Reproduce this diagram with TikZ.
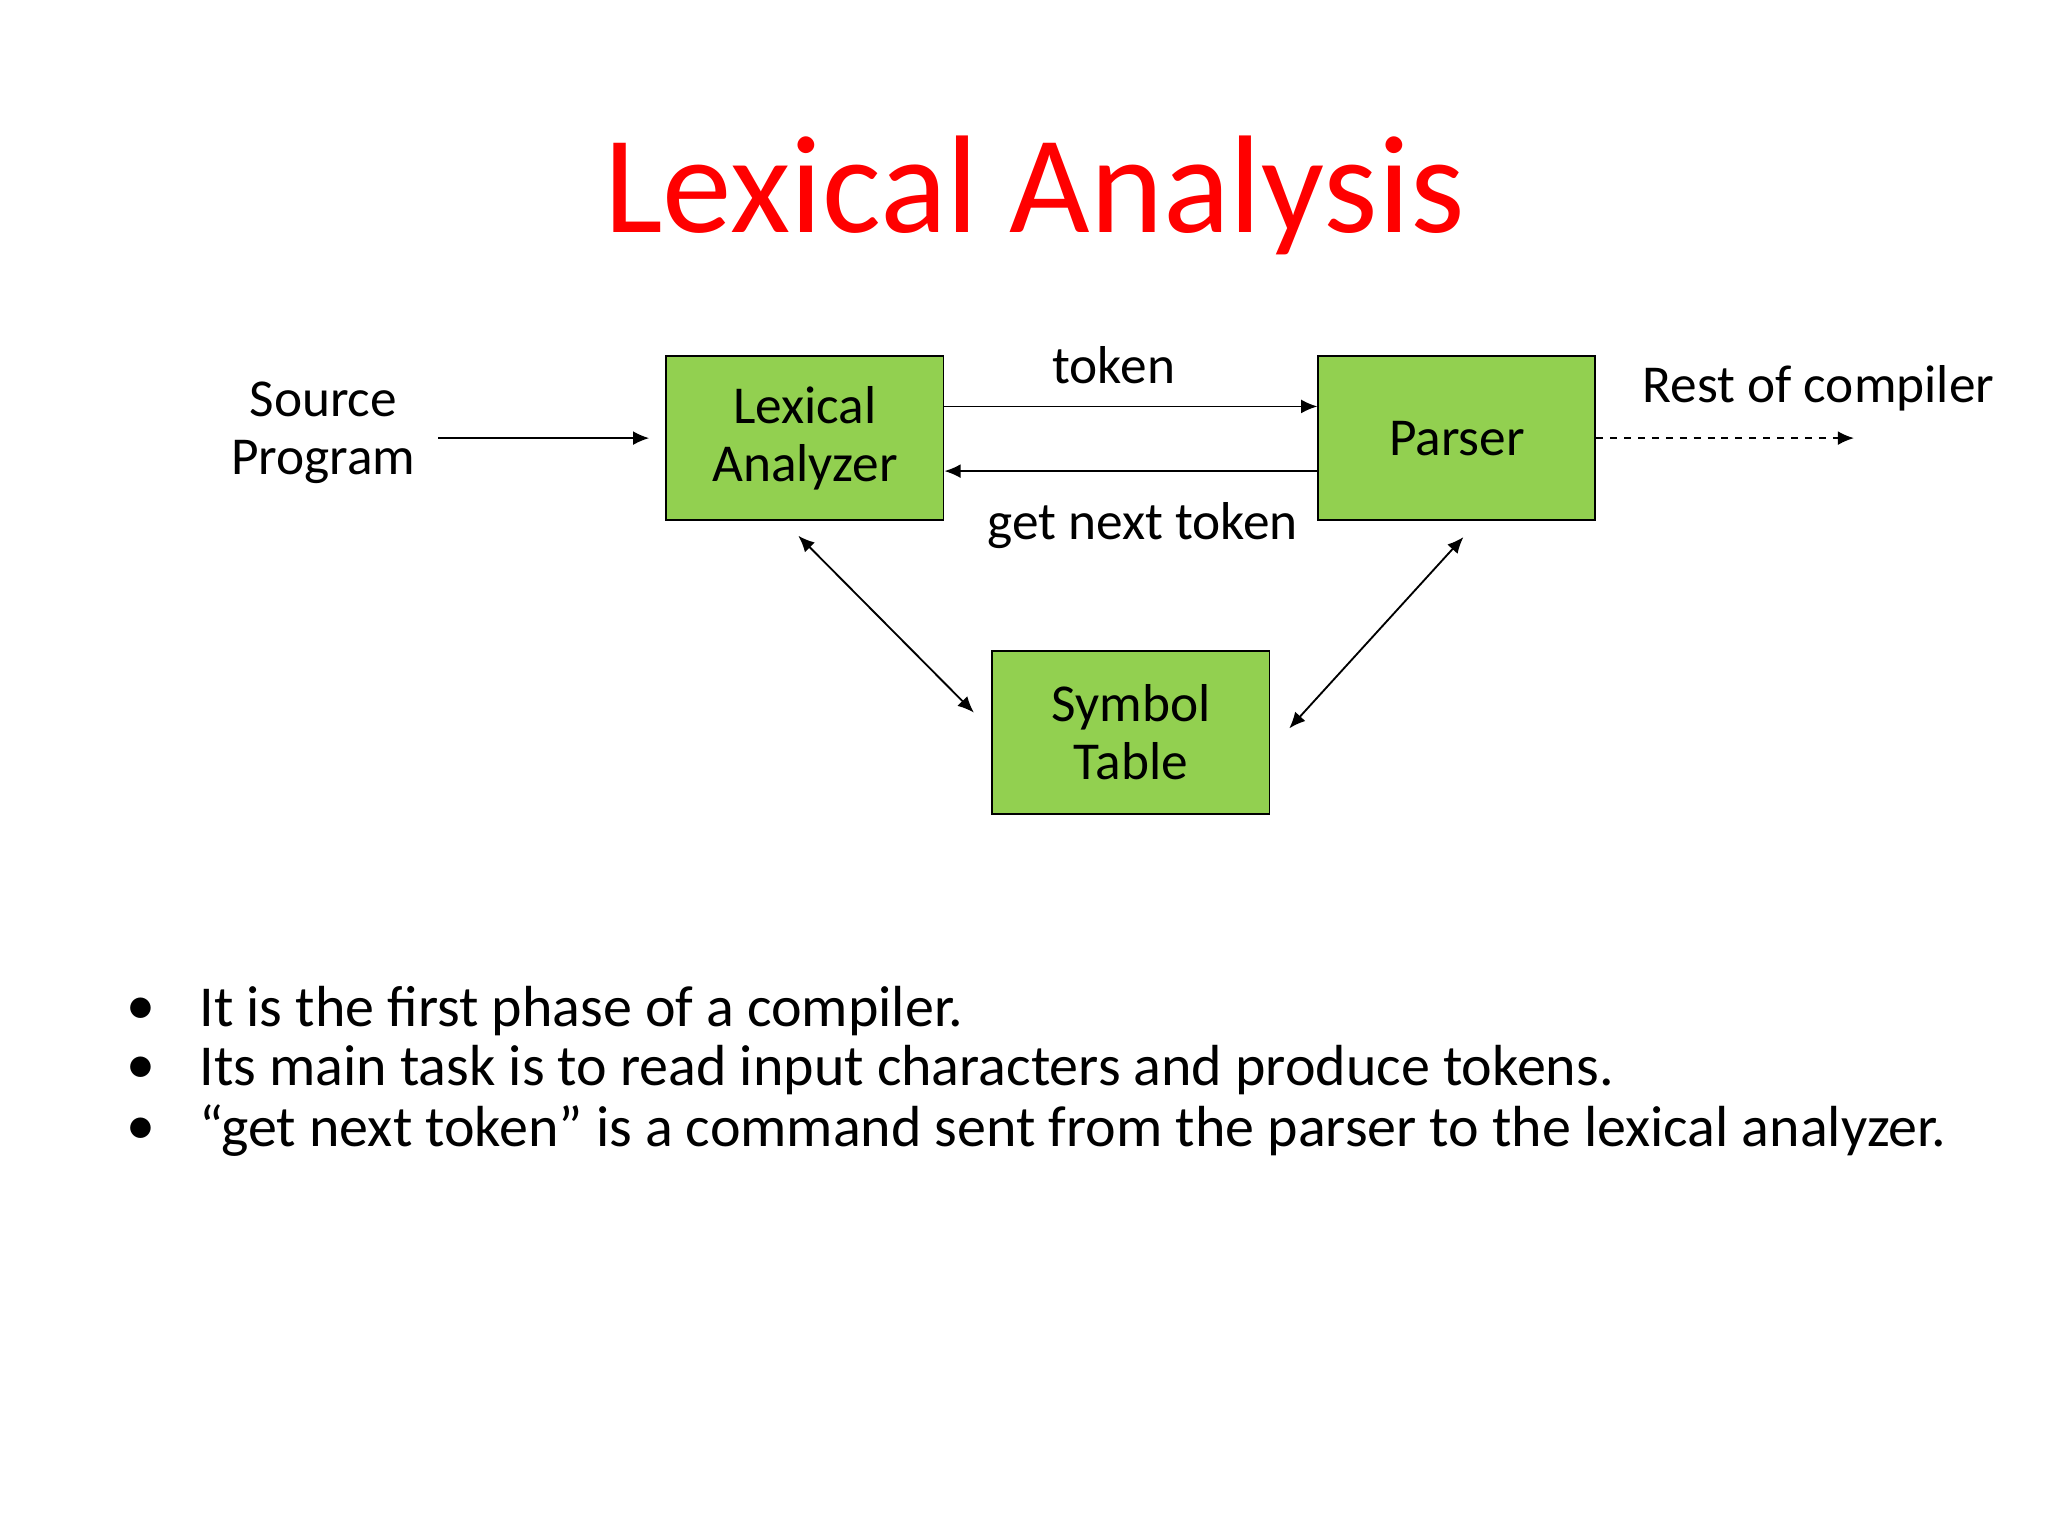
\documentclass[tikz,border=0pt]{standalone}
\usepackage{fontspec}
\setmainfont{Carlito}
\usetikzlibrary{arrows.meta}
\definecolor{boxgreen}{HTML}{92D050}
\begin{document}
\begin{tikzpicture}[x=0.02cm,y=-0.02cm,
  box/.style={draw=black,thick,fill=boxgreen,minimum width=4.2cm,minimum height=2.48cm,align=center,font=\fontsize{23}{27}\selectfont},
  lbl/.style={font=\fontsize{23}{27}\selectfont,align=center},
  arr/.style={-{Latex[length=7pt,width=6pt]},thick},
  barr/.style={{Latex[length=7pt,width=6pt]}-{Latex[length=7pt,width=6pt]},thick},
  bul/.style={font=\fontsize{25}{30}\selectfont,anchor=west}]
\useasboundingbox (0,0) rectangle (1552,1164);
\node[text=red,font=\fontsize{60}{70}\selectfont] (title) at (784,148) {Lexical Analysis};
\node[box] (lex) at (610,332) {Lexical\\[-2pt]Analyzer};
\node[box] (par) at (1104,332) {Parser};
\node[box] (sym) at (857,555) {Symbol\\[-2pt]Table};
\node[lbl] (src) at (245,328) {Source\\[-2pt]Program};
\node[lbl] (tok) at (844,277) {token};
\node[lbl] (gnt) at (866,398) {get next token};
\node[lbl] (rest) at (1378,294) {Rest of compiler};
\coordinate (s1) at (332,332); \coordinate (s2) at (492,332);
\draw[arr] (s1) -- (s2);
\draw[arr] (lex.east |- 0,308) -- (par.west |- 0,308);
\draw[arr] (par.west |- 0,357) -- (lex.east |- 0,357);
\coordinate (r2) at (1405,332);
\draw[arr,dashed] (par.east) -- (r2);
\coordinate (d1) at (605,406); \coordinate (d2) at (738,540);
\coordinate (e1) at (1109,407); \coordinate (e2) at (977,552);
\draw[barr] (d1) -- (d2);
\draw[barr] (e1) -- (e2);
\foreach \y/\t in {766/{It is the first phase of a compiler.},811/{Its main task is to read input characters and produce tokens.},857/{“get next token” is a command sent from the parser to the lexical analyzer.}}{
  \node[bul] at (90,\y) {•};
  \node[bul] at (145,\y) {\t};
}
\end{tikzpicture}
\end{document}
